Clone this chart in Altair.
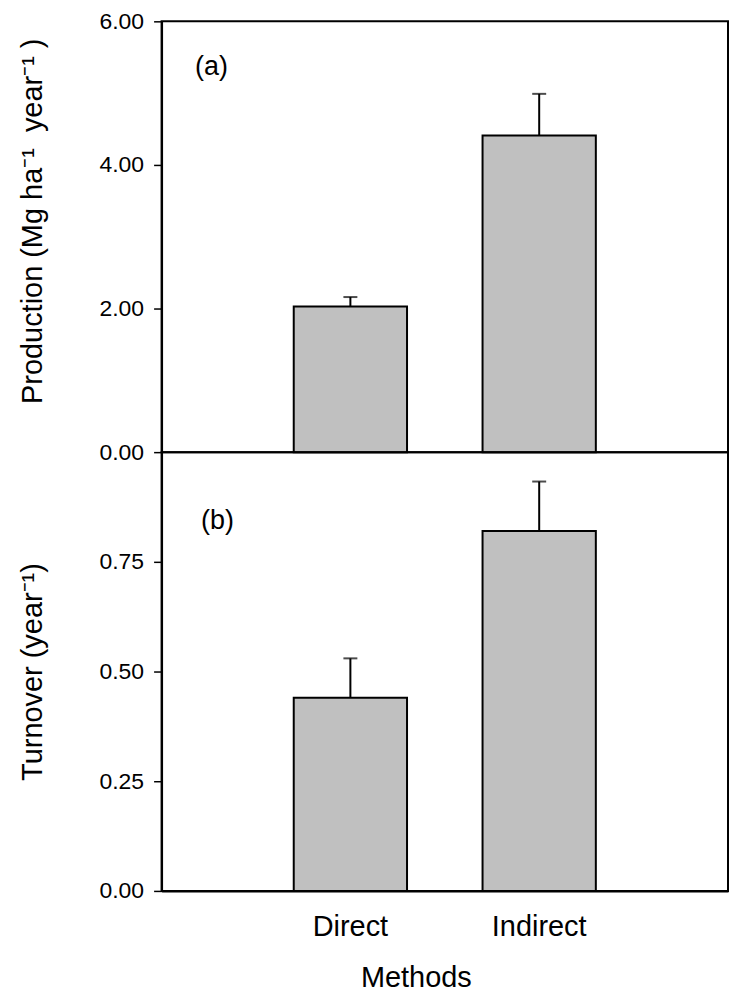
import altair as alt
import pandas as pd

methods = ["Direct", "Indirect"]
production = [2.03, 4.41]
production_se = [0.13, 0.58]
turnover = [0.44, 0.82]
turnover_se = [0.09, 0.113]

FONT = "Arial, Liberation Sans, sans-serif"

df_a = pd.DataFrame({
    "method": methods,
    "value": production,
    "upper": [v + e for v, e in zip(production, production_se)],
})
df_b = pd.DataFrame({
    "method": methods,
    "value": turnover,
    "upper": [v + e for v, e in zip(turnover, turnover_se)],
})

xscale = alt.Scale(domain=methods, paddingInner=0.4, paddingOuter=0.7)


def panel(df, ytitle, domain, ticks, label, lx, ly, show_x, h, title_y=None):
    if show_x:
        xaxis = alt.Axis(title="Methods", labelAngle=0, ticks=False, labelPadding=22,
                         labelFontSize=29, titleFontSize=29, titlePadding=22, titleX=255)
    else:
        xaxis = None
    xenc = alt.X("method:N", scale=xscale, sort=methods, axis=xaxis)
    axis_kw = dict(values=ticks, format=".2f", title=ytitle, titlePadding=52,
                   labelPadding=10, tickSize=8)
    if title_y is not None:
        axis_kw["titleY"] = title_y
    yaxis = alt.Axis(**axis_kw)
    ysc = alt.Scale(domain=domain, nice=False, zero=True)
    bars = alt.Chart(df).mark_bar(fill="#c0c0c0", stroke="black", strokeWidth=2).encode(
        x=xenc, y=alt.Y("value:Q", scale=ysc, axis=yaxis)
    )
    rule = alt.Chart(df).mark_rule(color="black", strokeWidth=2).encode(
        x=xenc, y=alt.Y("value:Q", scale=ysc), y2="upper:Q"
    )
    cap = alt.Chart(df).mark_tick(color="black", thickness=2, size=14).encode(
        x=xenc, y=alt.Y("upper:Q", scale=ysc)
    )
    txt = alt.Chart(pd.DataFrame({"t": [label]})).mark_text(
        font=FONT, fontSize=27, color="black"
    ).encode(text="t:N", x=alt.value(lx), y=alt.value(ly))
    return alt.layer(bars, rule, cap, txt).properties(width=568, height=h)


top = panel(df_a, "Production\u00a0(Mg ha\u207b\u00b9\u00a0\u00a0year\u207b\u00b9\u00a0)", [0, 6],
            [0, 2, 4, 6], "(a)", 50, 46, False, 432, title_y=200)
bottom = panel(df_b, "Turnover (year\u207b\u00b9)", [0, 1], [0, 0.25, 0.5, 0.75],
               "(b)", 56, 69, True, 440)

chart = alt.vconcat(top, bottom, spacing=0, bounds="flush").properties(
    padding={"top": 0, "left": 9, "right": 0, "bottom": 0}
).configure(
    background="white",
    view=alt.ViewConfig(stroke="black", strokeWidth=2),
    axis=alt.AxisConfig(
        domainColor="black", domainWidth=2, tickColor="black", tickWidth=1.5,
        labelColor="black", titleColor="black", labelFont=FONT, titleFont=FONT,
        labelFontSize=23, titleFontSize=29, titleFontWeight="normal", grid=False
    ),
)

chart.save("out.html", embed_options={"renderer": "svg", "actions": False})
